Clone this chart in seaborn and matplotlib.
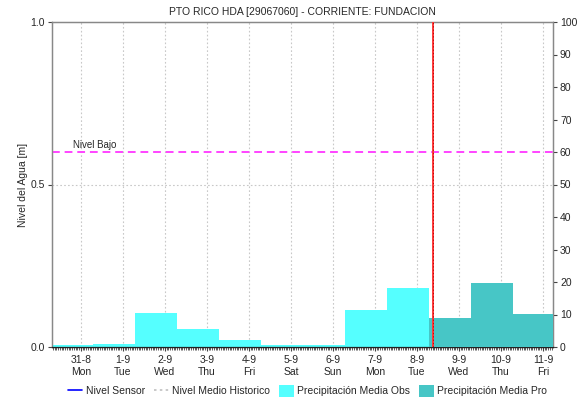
import numpy as np
import pandas as pd
import matplotlib
matplotlib.use("Agg")
import matplotlib.pyplot as plt
import seaborn as sns
from matplotlib.lines import Line2D
from matplotlib.patches import Patch
from matplotlib.ticker import MultipleLocator

# Data
dias = ["31-8", "1-9", "2-9", "3-9", "4-9", "5-9", "6-9", "7-9", "8-9", "9-9", "10-9", "11-9"]
nombres = ["Mon", "Tue", "Wed", "Thu", "Fri", "Sat", "Sun", "Mon", "Tue", "Wed", "Thu", "Fri"]
precip_obs = [0.6, 1.0, 10.5, 5.6, 2.1, 0.6, 0.6, 11.5, 18.2]   # 31-8 .. 8-9
precip_pro = [9.0, 19.8, 10.2]                                   # 9-9 .. 11-9
nivel_bajo = 0.6
ahora = 8.38  # posicion de la linea roja (en dias)

sns.set_style("white")
plt.rcParams["font.family"] = ["Liberation Sans", "DejaVu Sans"]
plt.rcParams["font.size"] = 7.5

fig = plt.figure(figsize=(5.82, 4.0), dpi=100)
ax = fig.add_axes([52 / 582, 53 / 400, 501 / 582, 325 / 400])
ax2 = ax.twinx()

idx = np.arange(len(dias))
n_obs = len(precip_obs)
df_obs = pd.DataFrame({"x": idx[:n_obs] - 0.21, "v": precip_obs})
df_pro = pd.DataFrame({"x": idx[n_obs:] - 0.21, "v": precip_pro})

sns.barplot(data=df_obs, x="x", y="v", native_scale=True, width=1.0,
            color="#55FFFF", saturation=1, linewidth=0, ax=ax2, zorder=2)
sns.barplot(data=df_pro, x="x", y="v", native_scale=True, width=1.0,
            color="#47C6C6", saturation=1, linewidth=0, ax=ax2, zorder=3)

# linea roja (fecha actual)
ax2.axvline(ahora, color="#FF3838", lw=1.4, zorder=5)
ax2.axvline(ahora, color="#B00000", lw=0.6, ls=(0, (1.5, 2.5)), zorder=6)

# nivel bajo
ax.axhline(nivel_bajo, color="#FF44FF", lw=1.4, ls=(0, (4, 2.5)), zorder=4)
ax.text(-0.19, nivel_bajo + 0.005, "Nivel Bajo", fontsize=7, va="bottom", ha="left")

# grid
for i in idx:
    ax.axvline(i, color="#C8C8C8", lw=0.8, ls=(0, (1.5, 2)), zorder=0)
ax.axhline(0.5, color="#C8C8C8", lw=0.8, ls=(0, (1.5, 2)), zorder=0)

ax.set_xlim(-0.69, 11.24)
ax.set_ylim(0, 1)
ax2.set_ylim(0, 100)
ax2.set_xlim(-0.69, 11.24)

ax.set_xticks(idx)
ax.set_xticklabels([f"{d}\n{n}" for d, n in zip(dias, nombres)], fontsize=7.5)
ax.xaxis.set_minor_locator(MultipleLocator(1 / 24))
ax.set_yticks([0, 0.5, 1.0])
ax.set_yticklabels(["0.0", "0.5", "1.0"])
ax2.set_yticks(np.arange(0, 101, 10))
ax2.set_xlabel("")
ax2.set_ylabel("")
ax.set_xlabel("")
ax.set_ylabel("Nivel del Agua [m]", fontsize=7.5, labelpad=2)

ax.tick_params(axis="x", which="major", bottom=True, length=3, width=0.8, color="#444444", pad=3)
ax.tick_params(axis="x", which="minor", bottom=True, length=1.8, width=0.6, color="#444444")
ax.tick_params(axis="y", left=True, length=3, width=0.8, color="#444444", pad=2)
ax2.tick_params(axis="y", right=True, length=3, width=0.8, color="#444444", pad=2, labelsize=7.5)
for a in (ax, ax2):
    for s in a.spines.values():
        s.set_color("#888888")
        s.set_linewidth(0.9)
ax2.spines["bottom"].set_color("#222222")
ax.spines["bottom"].set_color("#222222")

ax.set_title("PTO RICO HDA [29067060] - CORRIENTE: FUNDACION", fontsize=7.5, pad=5)

handles = [
    Line2D([], [], color="#0000FF", lw=1.2),
    Line2D([], [], color="#C0C0C0", lw=1.2, ls=(0, (1.5, 2))),
    Patch(facecolor="#55FFFF", edgecolor="none"),
    Patch(facecolor="#47C6C6", edgecolor="none"),
]
labels = ["Nivel Sensor", "Nivel Medio Historico", "Precipitación Media Obs", "Precipitación Media Pro"]
fig.legend(handles, labels, loc="center", bbox_to_anchor=(0.528, 9 / 400), ncol=4,
           frameon=False, fontsize=7.5, handlelength=1.4, handletextpad=0.3,
           columnspacing=0.9, handleheight=1.3)

fig.savefig("out.png", dpi=100)
